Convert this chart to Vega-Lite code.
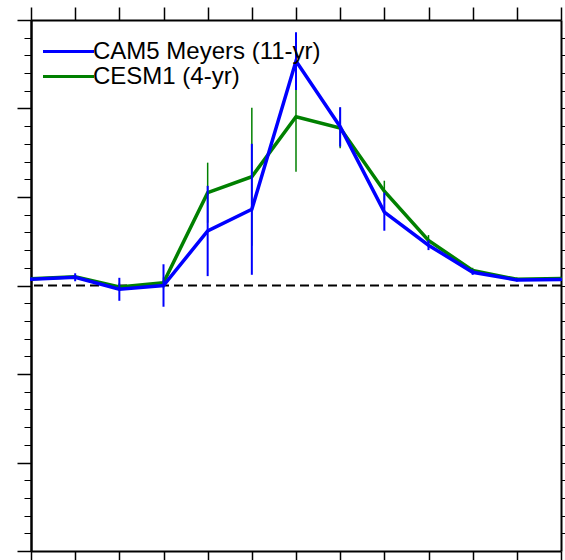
{
  "$schema": "https://vega.github.io/schema/vega-lite/v6.json",
  "width": 530,
  "height": 531,
  "autosize": {"type": "none"},
  "padding": {"left": 31, "top": 20, "right": 4, "bottom": 9},
  "config": {
    "view": {"stroke": null},
    "axis": {"grid": false, "labels": false, "title": null, "domainColor": "black", "domainWidth": 2, "tickColor": "black", "tickWidth": 1.5},
    "legend": {"labelFont": "Liberation Sans", "orient": "none", "legendX": 10, "legendY": 19, "title": null, "symbolType": "stroke", "symbolSize": 2601, "symbolStrokeWidth": 3.2, "labelFontSize": 24, "labelColor": "black", "labelOffset": -3, "labelLimit": 400, "padding": 0, "rowPadding": 0, "clipHeight": 25}
  },
  "datasets": {
    "series": [
      {"m": 0, "model": "CESM1 (4-yr)", "v": 0.075, "lo": 0.06, "hi": 0.09},
      {"m": 1, "model": "CESM1 (4-yr)", "v": 0.10, "lo": 0.08, "hi": 0.12},
      {"m": 2, "model": "CESM1 (4-yr)", "v": -0.017, "lo": -0.06, "hi": 0.03},
      {"m": 3, "model": "CESM1 (4-yr)", "v": 0.032, "lo": -0.03, "hi": 0.09},
      {"m": 4, "model": "CESM1 (4-yr)", "v": 1.049, "lo": 0.71, "hi": 1.388},
      {"m": 5, "model": "CESM1 (4-yr)", "v": 1.229, "lo": 0.449, "hi": 2.009},
      {"m": 6, "model": "CESM1 (4-yr)", "v": 1.907, "lo": 1.286, "hi": 2.528},
      {"m": 7, "model": "CESM1 (4-yr)", "v": 1.78, "lo": 1.55, "hi": 2.01},
      {"m": 8, "model": "CESM1 (4-yr)", "v": 1.065, "lo": 0.95, "hi": 1.184},
      {"m": 9, "model": "CESM1 (4-yr)", "v": 0.51, "lo": 0.45, "hi": 0.57},
      {"m": 10, "model": "CESM1 (4-yr)", "v": 0.17, "lo": 0.14, "hi": 0.2},
      {"m": 11, "model": "CESM1 (4-yr)", "v": 0.07, "lo": 0.05, "hi": 0.09},
      {"m": 12, "model": "CESM1 (4-yr)", "v": 0.079, "lo": 0.06, "hi": 0.1},
      {"m": 0, "model": "CAM5 Meyers (11-yr)", "v": 0.07, "lo": 0.05, "hi": 0.09},
      {"m": 1, "model": "CAM5 Meyers (11-yr)", "v": 0.093, "lo": 0.048, "hi": 0.138},
      {"m": 2, "model": "CAM5 Meyers (11-yr)", "v": -0.043, "lo": -0.173, "hi": 0.087},
      {"m": 3, "model": "CAM5 Meyers (11-yr)", "v": 0.0, "lo": -0.24, "hi": 0.24},
      {"m": 4, "model": "CAM5 Meyers (11-yr)", "v": 0.616, "lo": 0.106, "hi": 1.126},
      {"m": 5, "model": "CAM5 Meyers (11-yr)", "v": 0.861, "lo": 0.121, "hi": 1.601},
      {"m": 6, "model": "CAM5 Meyers (11-yr)", "v": 2.537, "lo": 2.209, "hi": 2.861},
      {"m": 7, "model": "CAM5 Meyers (11-yr)", "v": 1.794, "lo": 1.57, "hi": 2.014},
      {"m": 8, "model": "CAM5 Meyers (11-yr)", "v": 0.83, "lo": 0.619, "hi": 1.049},
      {"m": 9, "model": "CAM5 Meyers (11-yr)", "v": 0.455, "lo": 0.40, "hi": 0.51},
      {"m": 10, "model": "CAM5 Meyers (11-yr)", "v": 0.15, "lo": 0.12, "hi": 0.18},
      {"m": 11, "model": "CAM5 Meyers (11-yr)", "v": 0.062, "lo": 0.045, "hi": 0.08},
      {"m": 12, "model": "CAM5 Meyers (11-yr)", "v": 0.068, "lo": 0.05, "hi": 0.086}
    ],
    "zero": [{"z": 0}]
  },
  "resolve": {"axis": {"x": "independent", "y": "independent"}},
  "layer": [
    {
      "data": {"name": "zero"},
      "mark": {"type": "rule", "color": "black", "strokeDash": [9, 5], "strokeWidth": 2},
      "encoding": {
        "y": {"field": "z", "type": "quantitative", "scale": {"domain": [-3, 3], "nice": false, "zero": false},
              "axis": {"orient": "left", "values": [-3, -2, -1, 0, 1, 2, 3], "tickSize": 14, "tickWidth": 1.5}}
      }
    },
    {
      "data": {"name": "series"},
      "transform": [{"filter": "datum.model == 'CESM1 (4-yr)'"}],
      "mark": {"type": "rule", "strokeWidth": 1.5},
      "encoding": {
        "x": {"field": "m", "type": "quantitative", "scale": {"domain": [0, 12], "nice": false, "zero": false},
              "axis": {"orient": "top", "values": [0,1,2,3,4,5,6,7,8,9,10,11,12], "tickSize": 13}},
        "y": {"field": "lo", "type": "quantitative",
              "axis": {"orient": "left", "values": [-2.8,-2.6,-2.4,-2.2,-1.8,-1.6,-1.4,-1.2,-0.8,-0.6,-0.4,-0.2,0.2,0.4,0.6,0.8,1.2,1.4,1.6,1.8,2.2,2.4,2.6,2.8], "tickSize": 7, "tickWidth": 1}},
        "y2": {"field": "hi"},
        "color": {"field": "model", "type": "nominal", "scale": {"domain": ["CAM5 Meyers (11-yr)", "CESM1 (4-yr)"], "range": ["#0000ff", "#008000"]}}
      }
    },
    {
      "data": {"name": "series"},
      "transform": [{"filter": "datum.model == 'CESM1 (4-yr)'"}],
      "mark": {"type": "line", "strokeWidth": 3.5},
      "encoding": {
        "x": {"field": "m", "type": "quantitative",
              "axis": {"orient": "bottom", "values": [0,1,2,3,4,5,6,7,8,9,10,11,12], "tickSize": 13}},
        "y": {"field": "v", "type": "quantitative",
              "axis": {"orient": "right", "values": [-2.8,-2.6,-2.4,-2.2,-2,-1.8,-1.6,-1.4,-1.2,-1,-0.8,-0.6,-0.4,-0.2,0,0.2,0.4,0.6,0.8,1,1.2,1.4,1.6,1.8,2,2.2,2.4,2.6,2.8], "tickSize": 7, "tickWidth": 1}},
        "color": {"field": "model", "type": "nominal"}
      }
    },
    {
      "data": {"name": "series"},
      "transform": [{"filter": "datum.model == 'CAM5 Meyers (11-yr)'"}],
      "mark": {"type": "rule", "strokeWidth": 2},
      "encoding": {
        "x": {"field": "m", "type": "quantitative", "axis": null},
        "y": {"field": "lo", "type": "quantitative", "axis": null},
        "y2": {"field": "hi"},
        "color": {"field": "model", "type": "nominal"}
      }
    },
    {
      "data": {"name": "series"},
      "transform": [{"filter": "datum.model == 'CAM5 Meyers (11-yr)'"}],
      "mark": {"type": "line", "strokeWidth": 3.5},
      "encoding": {
        "x": {"field": "m", "type": "quantitative", "axis": null},
        "y": {"field": "v", "type": "quantitative", "axis": null},
        "color": {"field": "model", "type": "nominal"}
      }
    }
  ]
}
